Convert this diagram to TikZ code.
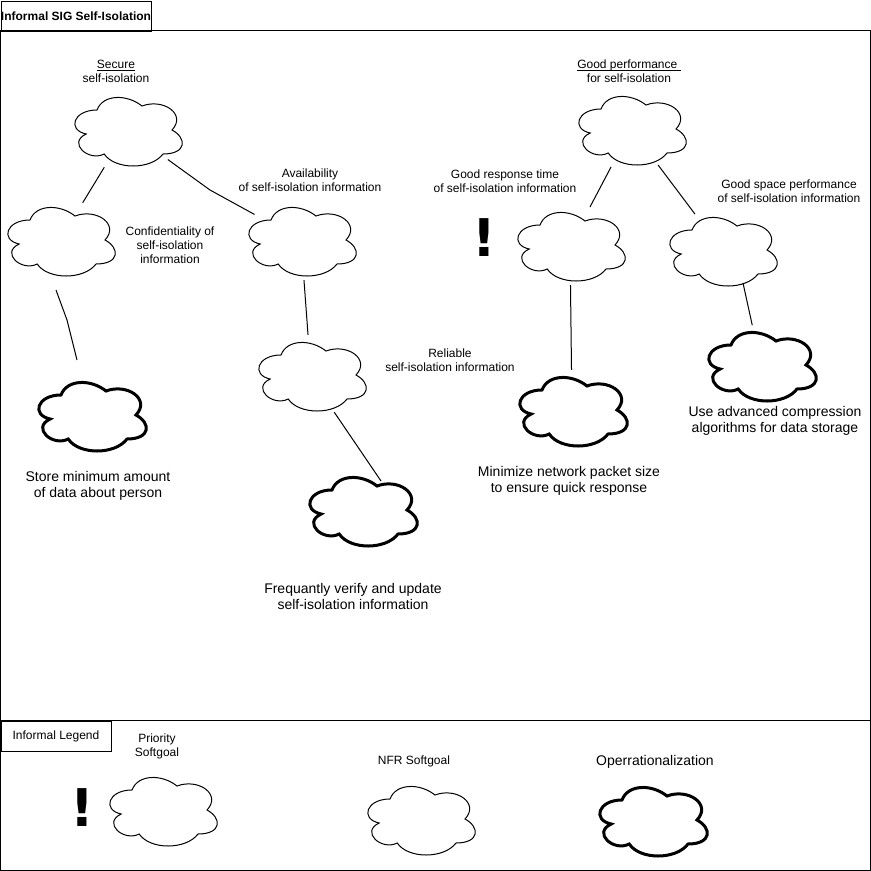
\documentclass[tikz,border=0pt]{standalone}
\usepackage{fontspec}
\setmainfont{Liberation Sans}
\newfontfamily\bangfont{DejaVu Sans}
\usetikzlibrary{shapes.geometric}

\tikzset{
  goal/.style={ellipse, minimum width=120pt, minimum height=80pt, inner sep=0pt},
  thincloud/.style={line width=1pt},
  thickcloud/.style={line width=3pt},
  link/.style={line width=1pt},
  frame/.style={line width=1pt},
  tab/.style={draw, line width=1pt, anchor=north west, inner sep=0pt,
    minimum height=30pt, font=\fontsize{12}{14}\selectfont},
  tag/.style={font=\fontsize{12}{14}\selectfont, align=center, inner sep=0pt},
  bigtag/.style={font=\fontsize{14}{16}\selectfont, align=center, inner sep=0pt},
  bang/.style={font=\bangfont\bfseries\fontsize{52}{52}\selectfont, inner sep=0pt},
  cloudpic/.pic={
    \draw[pic actions] (-30,-20) .. controls (-54,-20) and (-60,0) .. (-40.8,4)
      .. controls (-60,12.8) and (-38.4,32) .. (-22.8,24)
      .. controls (-12,40) and (24,40) .. (36,24)
      .. controls (60,24) and (60,8) .. (45,0)
      .. controls (60,-16) and (36,-32) .. (15,-24)
      .. controls (0,-36) and (-24,-36) .. (-30,-20) -- cycle;
  }
}

\begin{document}
\begin{tikzpicture}[x=1pt,y=-1pt]
\useasboundingbox (0,0) rectangle (871,871);
\fill[white] (0,0) rectangle (871,871);

% frames
\draw[frame] (0.5,30.5) rectangle (870.5,720.5);
\draw[frame] (0.5,720.5) rectangle (870.5,870.5);
\node[tab, minimum width=150pt] (sigtab) at (0.5,0.5) {\bfseries Informal SIG Self-Isolation};
\node[tab, minimum width=110pt] (legendtab) at (0.5,720.5) {Informal Legend};

% softgoals
\node[goal] (secure)   at (127,130) {};
\node[goal] (conf)     at (60,240)  {};
\node[goal] (avail)    at (301,240) {};
\node[goal] (reliable) at (311,375) {};
\node[goal] (goodperf) at (631,129) {};
\node[goal] (response) at (570,245) {};
\node[goal] (space)    at (722,250) {};

% operationalizations
\node[goal] (store)    at (91,415)  {};
\node[goal] (freq)     at (362,510) {};
\node[goal] (minim)    at (572,410) {};
\node[goal] (compress) at (761,365) {};

% legend
\node[goal] (prio) at (162,810) {};
\node[goal] (nfr)  at (420,819) {};
\node[goal] (oper) at (652,820) {};

\foreach \n in {secure,conf,avail,reliable,goodperf,response,space,prio,nfr}
  \pic[thincloud] at (\n) {cloudpic};
\foreach \n in {store,freq,minim,compress,oper}
  \pic[thickcloud] at (\n) {cloudpic};

% labels
\node[tag] (securetag)   at (116,75.5) {\underline{\smash{Secure}}\\self-isolation};
\node[tag] (conftag)     at (170,245) {Confidentiality of\\self-isolation\\information};
\node[tag] (availtag)    at (310,180) {Availability\\of self-isolation information};
\node[tag] (reliabletag) at (450,360) {Reliable\\self-isolation information};
\node[tag] (goodperftag) at (629,75.5) {\underline{\smash{Good performance\ }}\\for self-isolation};
\node[tag] (responsetag) at (505,181) {Good response time\\of self-isolation information};
\node[tag] (spacetag)    at (789,191) {Good space performance\\of self-isolation information};

\node[bigtag] (storetag)    at (98,486)  {Store minimum amount\\of data about person};
\node[bigtag] (freqtag)     at (353,596) {Frequantly verify and update\\self-isolation information};
\node[bigtag] (minimtag)    at (569,481) {Minimize network packet size\\to ensure quick response};
\node[bigtag] (compresstag) at (775,421) {Use advanced compression\\algorithms for data storage};

\node[tag]    (priotag) at (157,746) {Priority\\Softgoal};
\node[tag]    (nfrtag)  at (414,761) {NFR Softgoal};
\node[bigtag] (opertag) at (655,762) {Operrationalization};

\node[bang] (bangresp) at (484,238) {!};
\node[bang] (bangprio) at (82,808)  {!};

% links
\coordinate (securebend) at (210,190);
\coordinate (confout)    at (56,290);
\coordinate (confbend)   at (67,320);
\coordinate (storein)    at (77,360);
\coordinate (freqin)     at (381,481);
\coordinate (spaceout)   at (743,283);

\draw[link] (secure) -- (conf);
\draw[link] (secure) -- (securebend) -- (avail);
\draw[link] (confout) -- (confbend) -- (storein);
\draw[link] (avail) -- (reliable);
\draw[link] (reliable.-58) -- (freqin);
\draw[link] (goodperf) -- (response);
\draw[link] (goodperf) -- (space);
\draw[link] (response) -- (minim);
\draw[link] (spaceout) -- (compress);

\end{tikzpicture}
\end{document}
